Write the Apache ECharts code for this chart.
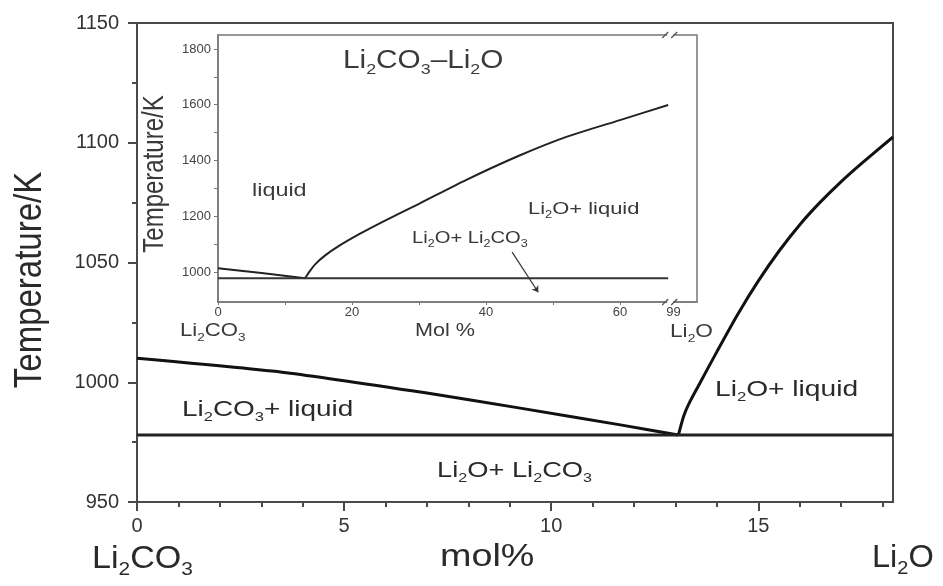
<!DOCTYPE html>
<html><head><meta charset="utf-8">
<script src="https://cdn.jsdelivr.net/npm/echarts@6/dist/echarts.min.js"></script>
<style>html,body{margin:0;padding:0;background:#fff}#c{width:943px;height:586px}</style>
</head><body><div id="c"></div>
<script>
// ---------- main diagram ----------
const mainXTicks = [0, 5, 10, 15];
const mainXMinorTicks = [0,1,2,3,4,5,6,7,8,9,10,11,12,13,14,15,16,17,18];
const mainYTicks = [950, 1000, 1050, 1100, 1150];
const mainLiquidusCO3 = [[0,1010],[3.6,1004],[7.0,995.5],[9.25,989.2],[11.67,982.2],[13.07,978]];
const mainLiquidusLi2O = [[13.07,978],[13.2,986],[13.35,992],[13.6,1000],[14.0,1012.8],[14.5,1028.3],[15.0,1042.3],[15.5,1054.8],[16.0,1065.8],[16.5,1075.3],[17.0,1083.8],[17.5,1091.5],[18.25,1102.4]];
const mainEutectic = [[0,978],[18.25,978]];
// ---------- inset diagram ----------
const insetXTicks = [0, 20, 40, 60, 68];
const insetXTickLabels = ['0', '20', '40', '60', '99'];
const insetXMinorTicks = [0,10,20,30,40,50,60];
const insetYTicks = [1000, 1200, 1400, 1600, 1800];
const insetYMinorTicks = [1000,1100,1200,1300,1400,1500,1600,1700,1800];
const insetLiquidusCO3 = [[0,1014],[6.5,997],[13,978]];
const insetLiquidusLi2O = [[13,978],[13.6,1000],[14.5,1028],[16,1060],[18,1093],[21,1135],[24.2,1176],[30,1245],[37,1330],[45,1418],[52,1485],[60,1545],[67.2,1599]];
const insetEutectic = [[0,978],[67.2,978]];
const insetArrow = [[43.9,1072],[47.8,928]];
const insetBreakAt = 67.5;

const FF = '"Liberation Sans", Arial, Helvetica, sans-serif';
function rich(size, color) {
  return {
    n: {fontSize: size, fontFamily: FF, fill: color, lineHeight: Math.round(size*1.2)},
    s: {fontSize: Math.round(size*0.6), fontFamily: FF, fill: color, lineHeight: Math.round(size*0.6), padding: [Math.round(size*0.7),0,0,0]}
  };
}
function txt(x, y, text, size, sx, color, opts) {
  opts = opts || {};
  return {
    type: 'text', x: x, y: y, z: 50,
    rotation: opts.rot || 0, scaleX: sx, scaleY: opts.sy || 1,
    style: {text: text, rich: rich(size, color), align: opts.align || 'left', verticalAlign: 'middle', fill: color}
  };
}
const L2 = '{n|Li}{s|2}';
const CO3 = '{n|CO}{s|3}';
const mainC = '#2a2a2a', insC = '#3a3a3a';
const plain = function (v) { return String(v); };

const chart = echarts.init(document.getElementById('c'), null, {renderer: 'canvas'});
const option = {
  animation: false,
  backgroundColor: '#fff',
  grid: [
    {left: 137, top: 23, width: 756, height: 479, show: true, borderColor: '#4a4a4a', borderWidth: 2, backgroundColor: 'transparent'},
    {left: 218, top: 35, width: 479, height: 267, show: true, borderColor: '#777', borderWidth: 1.5, backgroundColor: '#fff', z: 3}
  ],
  xAxis: [
    {gridIndex: 0, type: 'value', min: 0, max: 18.25, position: 'bottom',
     axisLine: {onZero: false, lineStyle: {color: '#4a4a4a', width: 2}},
     axisTick: {inside: false, customValues: mainXTicks, length: 9, lineStyle: {color: '#4a4a4a', width: 2}},
     axisLabel: {customValues: mainXTicks, fontSize: 20, color: '#333', fontFamily: FF, margin: 14, formatter: plain},
     splitLine: {show: false}},
    {gridIndex: 0, type: 'value', min: 0, max: 18.25, position: 'bottom',
     axisLine: {show: false, onZero: false},
     axisTick: {inside: false, customValues: mainXMinorTicks, length: 5, lineStyle: {color: '#4a4a4a', width: 2}},
     axisLabel: {show: false}, splitLine: {show: false}},
    {gridIndex: 1, type: 'value', min: 0, max: 71.5, z: 4,
     axisLine: {onZero: false, lineStyle: {color: '#777', width: 1.5}},
     axisTick: {customValues: insetXMinorTicks, length: 3, lineStyle: {color: '#777', width: 1}},
     axisLabel: {customValues: insetXTicks, fontSize: 13, color: '#444', fontFamily: FF, margin: 4,
       formatter: function (v) { const i = insetXTicks.indexOf(v); return i >= 0 ? insetXTickLabels[i] : ''; }},
     splitLine: {show: false}}
  ],
  yAxis: [
    {gridIndex: 0, type: 'value', min: 950, max: 1150, interval: 50,
     axisLine: {onZero: false, lineStyle: {color: '#4a4a4a', width: 2}},
     axisTick: {length: 9, lineStyle: {color: '#4a4a4a', width: 2}},
     minorTick: {show: true, splitNumber: 2, length: 5, lineStyle: {color: '#4a4a4a', width: 2}},
     axisLabel: {customValues: mainYTicks, fontSize: 20, color: '#333', fontFamily: FF, margin: 18, formatter: plain},
     splitLine: {show: false}},
    {gridIndex: 1, type: 'value', min: 893, max: 1850, z: 4,
     axisLine: {onZero: false, lineStyle: {color: '#777', width: 1.5}},
     axisTick: {customValues: insetYMinorTicks, length: 4, lineStyle: {color: '#777', width: 1}},
     axisLabel: {customValues: insetYTicks, fontSize: 13, color: '#444', fontFamily: FF, margin: 7, formatter: plain},
     splitLine: {show: false}}
  ],
  series: [
    {type: 'line', xAxisIndex: 0, yAxisIndex: 0, data: mainLiquidusCO3, showSymbol: false, smooth: 0.2, lineStyle: {color: '#111', width: 3}},
    {type: 'line', xAxisIndex: 0, yAxisIndex: 0, data: mainLiquidusLi2O, showSymbol: false, smooth: 0.2, lineStyle: {color: '#111', width: 3}},
    {type: 'line', xAxisIndex: 0, yAxisIndex: 0, data: mainEutectic, showSymbol: false, lineStyle: {color: '#222', width: 3}},
    {type: 'line', xAxisIndex: 2, yAxisIndex: 1, data: insetLiquidusCO3, showSymbol: false, smooth: 0.2, z: 5, lineStyle: {color: '#222', width: 2}},
    {type: 'line', xAxisIndex: 2, yAxisIndex: 1, data: insetLiquidusLi2O, showSymbol: false, smooth: 0.2, z: 5, lineStyle: {color: '#222', width: 2}},
    {type: 'line', xAxisIndex: 2, yAxisIndex: 1, data: insetEutectic, showSymbol: false, z: 5, lineStyle: {color: '#333', width: 2}},
    {type: 'lines', coordinateSystem: 'cartesian2d', xAxisIndex: 2, yAxisIndex: 1, z: 5,
     symbol: ['none', 'arrow'], symbolSize: 6,
     lineStyle: {color: '#333', width: 1.2, opacity: 1},
     data: [{coords: insetArrow}]}
  ]
};
chart.setOption(option);

const brkTop = chart.convertToPixel({xAxisIndex: 2, yAxisIndex: 1}, [insetBreakAt, 1850]);
const brkBot = chart.convertToPixel({xAxisIndex: 2, yAxisIndex: 1}, [insetBreakAt, 893]);
function brk(p) {
  return [
    {type: 'rect', z: 60, shape: {x: p[0]-3, y: p[1]-3, width: 6, height: 6}, style: {fill: '#fff'}},
    {type: 'line', z: 61, shape: {x1: p[0]-8, y1: p[1]+3, x2: p[0]-2, y2: p[1]-3}, style: {stroke: '#555', lineWidth: 1.3}},
    {type: 'line', z: 61, shape: {x1: p[0]+1, y1: p[1]+3, x2: p[0]+7, y2: p[1]-3}, style: {stroke: '#555', lineWidth: 1.3}}
  ];
}
chart.setOption({
  graphic: [].concat(brk(brkTop), brk(brkBot), [
    // main diagram text
    txt(30, 280, '{n|Temperature/K}', 33, 1, mainC, {rot: Math.PI/2, align: 'center', sy: 1.2}),
    txt(92, 559, L2 + CO3, 31, 1.1, mainC),
    txt(440, 557, '{n|mol%}', 32, 1.18, mainC),
    txt(872, 558, L2 + '{n|O}', 31, 1.05, mainC),
    txt(182, 410, L2 + CO3 + '{n|+ liquid}', 22, 1.27, mainC),
    txt(715, 390, L2 + '{n|O+ liquid}', 22, 1.28, mainC),
    txt(437, 471, L2 + '{n|O+ }' + L2 + CO3, 22, 1.24, mainC),
    // inset text
    txt(155, 174, '{n|Temperature/K}', 24, 1, insC, {rot: Math.PI/2, align: 'center', sy: 1.2}),
    txt(343, 61, L2 + CO3 + '{n|–}' + L2 + '{n|O}', 25, 1.19, insC),
    txt(252, 191, '{n|liquid}', 18, 1.3, insC),
    txt(528, 209, L2 + '{n|O+ liquid}', 17, 1.29, insC),
    txt(412, 239, L2 + '{n|O+ }' + L2 + CO3, 16, 1.26, insC),
    txt(180, 331, L2 + CO3, 18, 1.23, insC),
    txt(415, 331, '{n|Mol %}', 18, 1.2, insC),
    txt(670, 332, L2 + '{n|O}', 18, 1.26, insC)
  ])
});
</script>
</body></html>
